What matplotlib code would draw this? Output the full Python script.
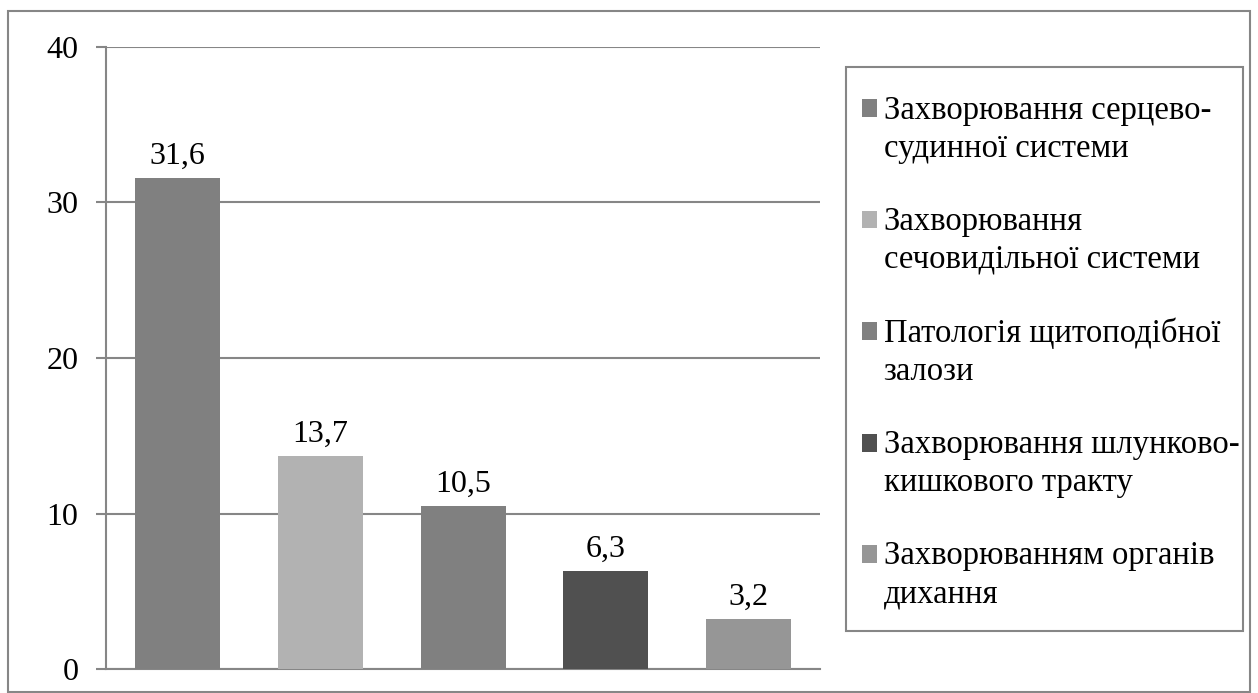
import matplotlib
matplotlib.use("Agg")
import matplotlib.pyplot as plt
from matplotlib.patches import Rectangle
from matplotlib.legend_handler import HandlerPatch

plt.rcParams["font.family"] = ["Liberation Serif", "DejaVu Serif"]

categories = [
    "Захворювання серцево-\nсудинної системи",
    "Захворювання\nсечовидільної системи",
    "Патологія щитоподібної\nзалози",
    "Захворювання шлунково-\nкишкового тракту",
    "Захворюванням органів\nдихання",
]
values = [31.6, 13.7, 10.5, 6.3, 3.2]
colors = ["#808080", "#B2B2B2", "#808080", "#505050", "#969696"]
yticks = [0, 10, 20, 30, 40]

LEG_FS = 23.5
LEG_LS = 1.33

fig = plt.figure(figsize=(12.58, 6.93), dpi=100)
ax = fig.add_axes([0.0843, 0.0346, 0.5676, 0.8976])

x = range(len(values))
bars = ax.bar(x, values, width=0.595, color=colors, label=categories, zorder=3)
ax.bar_label(bars, labels=[f"{v:.1f}".replace(".", ",") for v in values],
             padding=5, fontsize=23)

ax.set_xlim(-0.5, len(values) - 0.5)
ax.set_ylim(0, 40)
ax.set_yticks(yticks)
ax.set_xticks([])
ax.tick_params(axis="y", direction="out", length=7, width=1.5, color="#868686",
               labelsize=23, pad=13)
ax.grid(axis="y", color="#868686", linewidth=1.5, zorder=0)
ax.set_axisbelow(True)
for s in ("top", "right"):
    ax.spines[s].set_visible(False)
for s in ("left", "bottom"):
    ax.spines[s].set_color("#868686")
    ax.spines[s].set_linewidth(1.5)


# legend square sits on the first text line, not in the middle of the entry
def top_square(legend, orig_handle, xdescent, ydescent, width, height, fontsize):
    shift = 0.5 * 0.85 * LEG_LS * fontsize + 2
    return Rectangle((-xdescent, -ydescent + shift), width, height)


leg = ax.legend(loc="upper left", bbox_to_anchor=(862 / 1258, 1 - 95 / 693),
                bbox_transform=fig.transFigure, borderaxespad=0, fontsize=LEG_FS,
                frameon=False, handlelength=0.46, handleheight=0.46,
                handletextpad=0.2, labelspacing=1.3, borderpad=0,
                handler_map={Rectangle: HandlerPatch(patch_func=top_square)})
for t in leg.get_texts():
    t.set_linespacing(LEG_LS)

# legend box (drawn separately: the original has a much larger top/bottom margin)
fig.patches.append(Rectangle((846 / 1258, 1 - 631 / 693), 397 / 1258, 564 / 693,
                             transform=fig.transFigure, fill=False,
                             edgecolor="#868686", linewidth=1.5))
# outer chart border
fig.patches.append(Rectangle((8 / 1258, 0.002), 1242 / 1258, 1 - 11 / 693 - 0.002,
                             transform=fig.transFigure, fill=False,
                             edgecolor="#868686", linewidth=1.5))

fig.savefig("out.png", dpi=100)
